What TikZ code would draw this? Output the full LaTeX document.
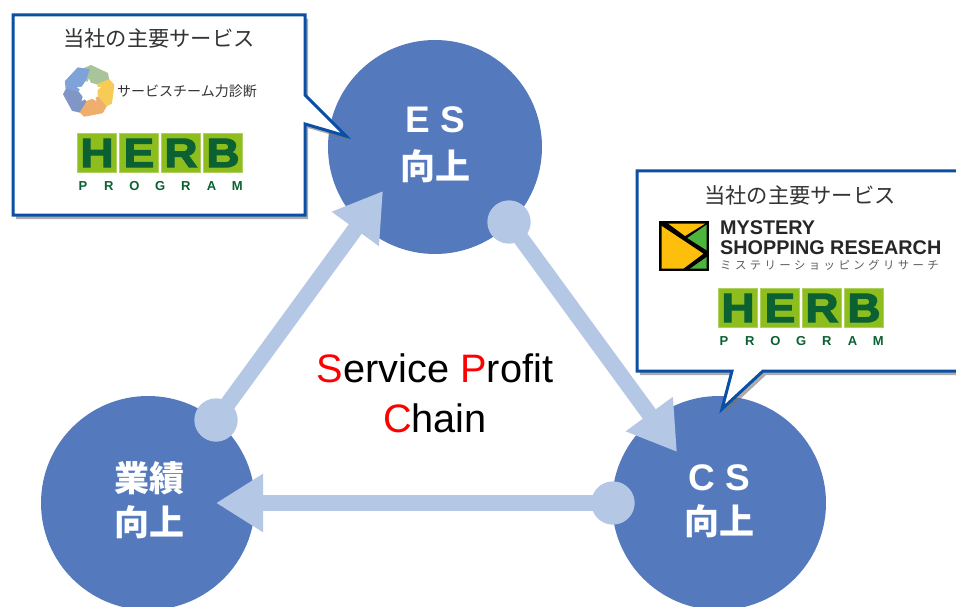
\documentclass[tikz,border=0pt]{standalone}
\usepackage{fontspec}
\setmainfont{Liberation Sans}
\newfontfamily\cjk{Noto Sans CJK JP}
\newfontfamily\cjkspaced[LetterSpace=30]{Noto Sans CJK JP}
\newfontfamily\herbfont[FakeBold=3,FakeStretch=1.12]{Liberation Sans Bold}
\usetikzlibrary{positioning,arrows.meta,shadows,shapes.geometric}
\definecolor{circleblue}{HTML}{547ABD}
\definecolor{flowblue}{HTML}{B4C8E6}
\definecolor{calloutblue}{HTML}{0A4FA3}
\definecolor{herblight}{HTML}{8DBE1E}
\definecolor{herbdark}{HTML}{0B6132}
\definecolor{servicegray}{HTML}{333333}
\definecolor{logoyellow}{HTML}{FDBF0C}
\definecolor{logogreen}{HTML}{4DB43C}
\newcommand{\fs}[1]{\fontsize{#1}{#1}\selectfont}
\tikzset{
  bigcircle/.style={circle,fill=circleblue,minimum size=214pt,inner sep=0pt},
  flowdot/.style={circle,fill=flowblue,minimum size=43pt,inner sep=0pt},
  flowarrow/.style={draw=flowblue,line width=16pt,-{Triangle[length=47pt,width=55pt]}},
  callout/.style={draw=calloutblue,fill=white,line width=3pt,line join=miter,
    drop shadow={shadow xshift=3pt,shadow yshift=-4pt,fill=black!55,opacity=.6}},
  circletext/.style={text=white,font=\cjk\bfseries\fs{35}},
  headtext/.style={text=servicegray,font=\cjk\fs{21.3}},
  herbbox/.style={fill=herblight,draw=herblight!70!white,minimum width=39pt,minimum height=39pt,inner sep=0pt,
    text=herbdark,font=\herbfont\fs{41}},
  herbsmall/.style={text=herbdark,font=\bfseries\fs{13},inner sep=0pt},
  mysterytext/.style={anchor=west,font=\bfseries\fs{19.8},inner sep=0pt,text=black!85}
}
% HERB logo, #1 = prefix, #2 = centre of first box x, #3 = y of boxes
\newcommand{\herblogo}[3]{
  \foreach \i/\l in {0/H,1/E,2/R,3/B}
    \node[herbbox] (#1box\i) at (#2+\i*42,#3) {\l};
  \foreach \i/\l in {0/P,1/R,2/O,3/G,4/R,5/A,6/M}
    \node[herbsmall] (#1prog\i) at (#2-14+\i*25.7,#3+33) {\l};
}
\begin{document}
\begin{tikzpicture}[x=1pt,y=-1pt]
\clip (0,0) rectangle (956,607);
\fill[white] (0,0) rectangle (956,607);
% circles
\node[bigcircle] (es) at (435,147) {};
\node[bigcircle] (perf) at (148,503) {};
\node[bigcircle] (cs) at (719,503) {};
\coordinate (estip) at (383,191);
\coordinate (cstip) at (677,452);
\coordinate (perftip) at (216,503);
\node[flowdot] (esdot) at (509,222) {};
\node[flowdot] (csdot) at (613,503) {};
\node[flowdot] (perfdot) at (216,420) {};
% arrows
\draw[flowarrow] (esdot.center) -- (cstip);
\draw[flowarrow] (csdot.center) -- (perftip);
\draw[flowarrow] (perfdot.center) -- (estip);
\node[flowdot] (esdottop) at (esdot) {};
\node[flowdot] (csdottop) at (csdot) {};
\node[flowdot] (perfdottop) at (perfdot) {};
% circle labels
\node[circletext,font=\bfseries\fs{37}] (eslabel) at (435,120) {E S};
\node[circletext] (esup) at (435,166) {向上};
\node[circletext] (perflabel) at (149,478) {業績};
\node[circletext] (perfup) at (149,522) {向上};
\node[circletext,font=\bfseries\fs{37}] (cslabel) at (719,478) {C S};
\node[circletext] (csup) at (719,521) {向上};
% centre title
\node[font=\fs{39.7},align=center] (titleone) at (435,368) {\textcolor{red}{S}ervice \textcolor{red}{P}rofit};
\node[font=\fs{39.7}] (titletwo) at (435,418) {\textcolor{red}{C}hain};
% left callout
\draw[callout] (13,15) -- (305,15) -- (305,95) -- (346,136) -- (305,124) -- (305,215) -- (13,215) -- cycle;
\node[headtext] (lefthead) at (159,38) {当社の主要サービス};
\foreach \a/\c in {0/A9C49A,-72/F7CB55,-144/F0AE6C,-216/7F96C6,-288/7FA2D8}{
  \definecolor{petal}{HTML}{\c}
  \fill[petal,rotate around={\a:(89,91)}] (84,68) -- (91,65) -- (108,73) -- (110,85) -- (99,85) -- (85,81) -- cycle;
}
\node[star,star points=5,star point ratio=2.2,fill=white,minimum size=25pt,inner sep=0pt] (teamstar) at (89,91) {};
\node[text=servicegray,font=\cjk\fs{14}] (teamtext) at (187,91) {サービスチーム力診断};
\herblogo{left}{97}{153}
% right callout
\draw[callout] (637,171) -- (970,171) -- (970,371) -- (763,371) -- (722,409) -- (732,371) -- (637,371) -- cycle;
\node[headtext] (righthead) at (800,195) {当社の主要サービス};
\begin{scope}[shift={(650,212)},scale=1/3]
\fill[black] (27,27) rectangle (178,178);
\fill[logoyellow] (35,42) -- (35,170) -- (100,170) -- (160,125) -- cycle;
\fill[logoyellow] (55,35) -- (165,35) -- (105,72) -- cycle;
\fill[logogreen] (170,38) -- (170,115) -- (112,78) -- cycle;
\fill[logogreen] (170,135) -- (170,170) -- (120,170) -- cycle;
\end{scope}
\node[mysterytext] (mysteryone) at (720,228) {MYSTERY};
\node[mysterytext] (mysterytwo) at (720,248) {SHOPPING RESEARCH};
\node[anchor=west,text=servicegray!80,font=\cjkspaced\fs{11.4},inner sep=0pt] (mysteryjp) at (720,265) {ミステリーショッピングリサーチ};
\herblogo{right}{738}{308}
\end{tikzpicture}
\end{document}
